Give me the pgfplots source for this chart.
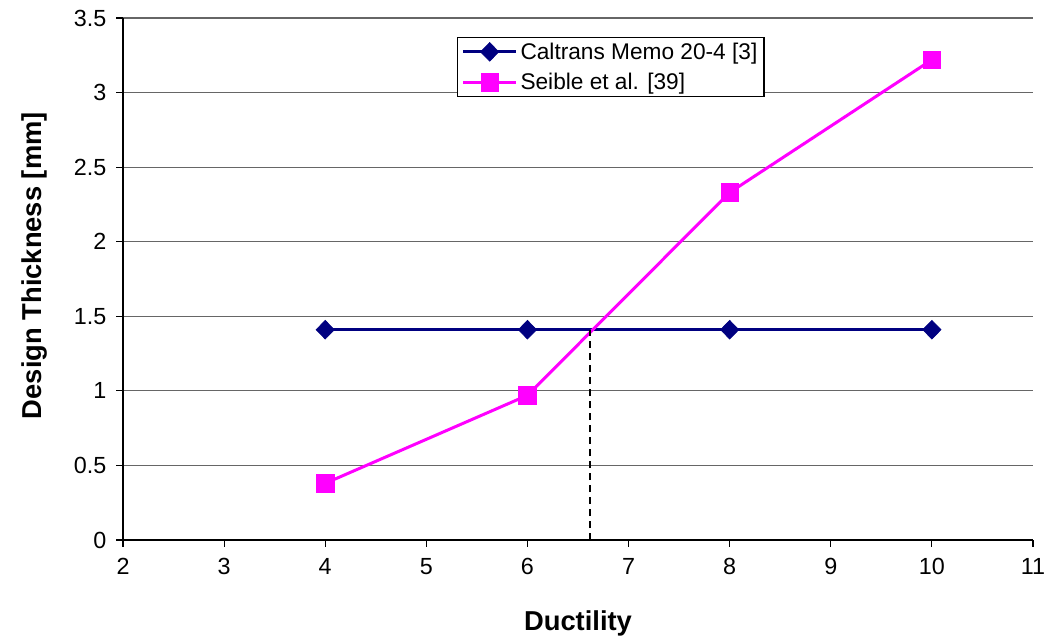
\documentclass[border=0pt]{standalone}
\usepackage{pgfplots}
\pgfplotsset{compat=1.18}
\usepackage{fontspec}
\setmainfont{Liberation Sans}
\definecolor{navyc}{RGB}{0,0,128}
\definecolor{magc}{RGB}{255,0,255}
\begin{document}
\begin{tikzpicture}
\begin{axis}[
  scale only axis,
  width=682.5pt, height=391.5pt,
  xmin=2, xmax=11, ymin=0, ymax=3.5,
  xtick={2,3,...,11}, ytick={0,0.5,...,3.5},
  yticklabels={0,0.5,1,1.5,2,2.5,3,3.5},
  axis x line*=bottom, axis y line*=left,
  axis line style={black, line width=0.8pt, -},
  tick style={black, line width=0.8pt},
  tick align=outside, major tick length=5pt,
  ymajorgrids, grid style={gray!80!black, line width=0.8pt},
  /pgf/number format/assume math mode=true,
  ticklabel style={font=\fontsize{17.5}{20}\selectfont},
  xticklabel style={yshift=-5pt},
  yticklabel style={xshift=-4pt},
  xlabel={\textbf{Ductility}},
  ylabel={\textbf{Design Thickness [mm]}},
  label style={font=\fontsize{20.5}{24}\selectfont},
  xlabel style={yshift=-20pt},
  ylabel style={yshift=13pt, xshift=10pt},
  legend style={at={(0.367,0.964)}, anchor=north west, draw=black, line width=0.8pt,
    font=\fontsize{17}{20}\selectfont, inner xsep=3pt, inner ysep=2pt, row sep=5pt, cells={anchor=west}},
  legend image post style={line width=2.25pt},
  legend image code/.code={\draw[#1] (0pt,0pt) -- (20pt,0pt) -- (40pt,0pt); \draw[#1,only marks] plot coordinates {(20pt,0pt)};},
  clip=false,
]
\addplot[color=navyc, line width=2.4pt, mark=diamond*, mark size=7pt, mark options={solid, fill=navyc, line width=0.5pt, xscale=1.3}]
  coordinates {(4,1.41) (6,1.41) (8,1.41) (10,1.41)};
\addlegendentry{Caltrans Memo 20-4 [3]}
\addplot[color=magc, line width=2.25pt, mark=square*, mark size=6.5pt, mark options={solid, fill=magc, line width=0.5pt}]
  coordinates {(4,0.38) (6,0.97) (8,2.33) (10,3.22)};
\addlegendentry{Seible et al. [39]}
\addplot[black, line width=1.5pt, dash pattern=on 5pt off 4pt, forget plot]
  coordinates {(6.62,0) (6.62,1.41)};
\end{axis}
\pgfresetboundingbox
\path ([xshift=-92.25pt,yshift=-73.5pt]current axis.south west) rectangle ([xshift=10.5pt,yshift=13.5pt]current axis.north east);
\end{tikzpicture}
\end{document}
